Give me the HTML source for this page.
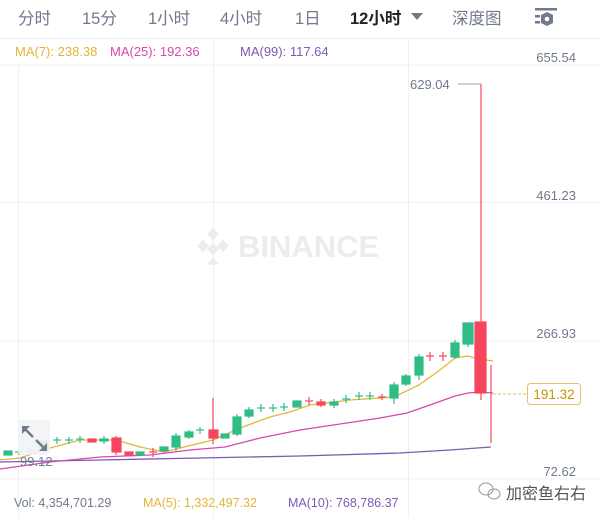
<!DOCTYPE html>
<html><head><meta charset="utf-8"><style>
html,body{margin:0;padding:0;background:#fff;width:600px;height:518px;overflow:hidden}
svg{display:block}
text{font-family:"Liberation Sans","Noto Sans CJK SC",sans-serif}
</style></head><body>
<svg width="600" height="518" viewBox="0 0 600 518" xmlns="http://www.w3.org/2000/svg">
<rect width="600" height="518" fill="#fff"/>
<g font-size="16.5" fill="#707a8a">
<text x="18" y="24">分时</text>
<text x="82" y="24">15分</text>
<text x="148" y="24">1小时</text>
<text x="220" y="24">4小时</text>
<text x="295" y="24">1日</text>
<text x="350" y="24" fill="#1e2329" font-weight="bold">12小时</text>
<text x="452" y="24">深度图</text>
</g>
<polygon points="411,13 423,13 417,20" fill="#707a8a"/>
<g fill="#707a8a"><rect x="535" y="8" width="22" height="2.5"/><rect x="535" y="15" width="5" height="2.5"/><rect x="535" y="21" width="5" height="2.5"/>
<polygon points="547,12 553,15 553,23 547,26 541,23 541,15"/><circle cx="547" cy="19" r="2.3" fill="#fff"/></g>
<line x1="0" y1="38.5" x2="600" y2="38.5" stroke="#eceef0"/>
<g font-size="13"><text x="15" y="56" fill="#e5b53a">MA(7): 238.38</text>
<text x="110" y="56" fill="#d948b0">MA(25): 192.36</text>
<text x="240" y="56" fill="#7d5ab5">MA(99): 117.64</text></g>
<g stroke="#eff0f2" stroke-width="1">
<line x1="0" y1="65" x2="600" y2="65"/><line x1="0" y1="202.5" x2="600" y2="202.5"/>
<line x1="0" y1="341" x2="600" y2="341"/><line x1="0" y1="479" x2="600" y2="479"/>
<line x1="18.5" y1="65" x2="18.5" y2="518"/><line x1="213.5" y1="40" x2="213.5" y2="518"/><line x1="408.5" y1="40" x2="408.5" y2="518"/>
</g>
<g font-size="13" fill="#707a8a" text-anchor="end">
<text x="576" y="62">655.54</text><text x="576" y="200">461.23</text>
<text x="576" y="338">266.93</text><text x="576" y="476">72.62</text></g>
<g fill="#ececec"><polygon points="213,228 219,234 213,240 207,234"/><polygon points="213,243 219,249 213,255 207,249"/><polygon points="203,240 209,246 203,252 197,246"/><polygon points="223,240 229,246 223,252 217,246"/><polygon points="213,258 219,264 213,265 207,264"/></g>
<text x="238" y="257" font-size="31" font-weight="bold" fill="#ececec">BINANCE</text>
<polyline fill="none" stroke="#7d5ab5" stroke-width="1.3" points="0,462 100,460 200,458 300,456 400,453 450,450 491,447"/>
<polyline fill="none" stroke="#d948b0" stroke-width="1.3" points="0,469 50,462 100,457 150,455 190,450 225,447 260,438 300,430 340,424 380,418 407,413 430,405 455,396 468,393 480,392 493,393"/>
<polyline fill="none" stroke="#e5b53a" stroke-width="1.3" points="0,460 20,458 50,448 80,440 116,440 140,447 164,452 180,448 213,440 240,428 270,417 290,412 310,405 350,400 394,397 419,385 440,370 455,358 467,356 480,359 493,361"/>
<g fill="#2ebd85" stroke="#2ebd85" stroke-width="1.2">
<rect x="4" y="451" width="8" height="4"/><line x1="15" y1="452" x2="23" y2="452"/><line x1="19" y1="449" x2="19" y2="455"/>
<line x1="26" y1="451" x2="34" y2="451"/><line x1="30" y1="448" x2="30" y2="454"/>
<rect x="40" y="441" width="8" height="8"/>
<line x1="53" y1="440" x2="61" y2="440"/><line x1="57" y1="437" x2="57" y2="444"/>
<line x1="65" y1="440" x2="73" y2="440"/><line x1="69" y1="437" x2="69" y2="444"/>
<line x1="76" y1="439" x2="84" y2="439"/><line x1="80" y1="436" x2="80" y2="443"/>
<rect x="100" y="439" width="8" height="2"/><line x1="104" y1="436" x2="104" y2="444"/>
<rect x="136" y="452" width="8" height="3"/>
<rect x="160" y="447" width="8" height="4"/>
<rect x="172" y="436" width="8" height="11"/><line x1="176" y1="433" x2="176" y2="451"/>
<rect x="185" y="432" width="8" height="5"/><line x1="189" y1="430" x2="189" y2="439"/>
<line x1="196" y1="430" x2="204" y2="430"/><line x1="200" y1="427" x2="200" y2="434"/>
<rect x="221" y="434" width="8" height="4"/>
<rect x="233" y="417" width="8" height="17"/><line x1="237" y1="414" x2="237" y2="436"/>
<rect x="245" y="410" width="8" height="6"/><line x1="249" y1="407" x2="249" y2="418"/>
<line x1="257" y1="408" x2="265" y2="408"/><line x1="261" y1="404" x2="261" y2="412"/>
<line x1="269" y1="408" x2="277" y2="408"/><line x1="273" y1="404" x2="273" y2="412"/>
<line x1="280" y1="407" x2="288" y2="407"/><line x1="284" y1="403" x2="284" y2="411"/>
<rect x="293" y="401" width="8" height="6"/>
<rect x="330" y="402" width="8" height="3"/><line x1="334" y1="399" x2="334" y2="408"/>
<line x1="342" y1="399" x2="350" y2="399"/><line x1="346" y1="395" x2="346" y2="403"/>
<line x1="355" y1="396" x2="363" y2="396"/><line x1="359" y1="392" x2="359" y2="400"/>
<line x1="366" y1="396" x2="374" y2="396"/><line x1="370" y1="392" x2="370" y2="400"/>
<rect x="390" y="385" width="8" height="13"/><line x1="394" y1="382" x2="394" y2="404"/>
<rect x="402" y="376" width="8" height="8"/><line x1="406" y1="374" x2="406" y2="386"/>
<rect x="415" y="357" width="8" height="18"/><line x1="419" y1="354" x2="419" y2="380"/>
<rect x="451" y="343" width="8" height="14"/><line x1="455" y1="340" x2="455" y2="359"/>
<rect x="463" y="323" width="10" height="21"/><line x1="468" y1="323" x2="468" y2="347"/>
</g>
<g fill="#f6465d" stroke="#f6465d" stroke-width="1.2">
<rect x="88" y="439" width="8" height="3"/>
<rect x="112" y="438" width="9" height="14"/><line x1="116" y1="436" x2="116" y2="455"/>
<rect x="125" y="452" width="8" height="3"/>
<line x1="149" y1="452" x2="157" y2="452"/><line x1="153" y1="448" x2="153" y2="457"/>
<rect x="209" y="430" width="9" height="8"/><line x1="213" y1="398" x2="213" y2="444"/>
<line x1="305" y1="401" x2="313" y2="401"/><line x1="309" y1="397" x2="309" y2="405"/>
<rect x="317" y="402" width="8" height="3"/><line x1="321" y1="399" x2="321" y2="407"/>
<line x1="378" y1="397" x2="386" y2="397"/><line x1="382" y1="394" x2="382" y2="400"/>
<line x1="426" y1="356" x2="434" y2="356"/><line x1="430" y1="352" x2="430" y2="361"/>
<line x1="439" y1="356" x2="447" y2="356"/><line x1="443" y1="352" x2="443" y2="361"/>
<rect x="475" y="322" width="11" height="71"/><line x1="481" y1="84" x2="481" y2="400"/>
<line x1="491" y1="365" x2="491" y2="443"/>
</g>
<line x1="458" y1="84" x2="481" y2="84" stroke="#9aa0a8" stroke-width="1"/>
<text x="410" y="89" font-size="13" fill="#707a8a">629.04</text>
<line x1="493" y1="394" x2="527" y2="394" stroke="#e5c06a" stroke-dasharray="3,2"/>
<rect x="527.5" y="383.5" width="53" height="21" rx="3" fill="#fff" stroke="#e5c06a"/>
<text x="554" y="399" font-size="13.5" fill="#c99400" text-anchor="middle">191.32</text>
<rect x="18" y="420" width="32" height="35" rx="4" fill="#f2f3f5" opacity="0.9"/>
<g stroke="#707a8a" stroke-width="2.5" fill="#707a8a"><line x1="25" y1="429" x2="33" y2="437"/><line x1="36" y1="440" x2="44" y2="448"/></g>
<polygon points="22,426 30,426 22,434" fill="#707a8a"/><polygon points="47,451 39,451 47,443" fill="#707a8a"/>
<text x="20" y="466" font-size="13" fill="#707a8a">99.12</text>
<g font-size="12.5"><text x="14" y="507" fill="#707a8a">Vol: 4,354,701.29</text>
<text x="143" y="507" fill="#e5b53a">MA(5): 1,332,497.32</text>
<text x="288" y="507" fill="#7d5ab5">MA(10): 768,786.37</text></g>
<g fill="none" stroke="#999" stroke-width="1"><ellipse cx="486" cy="489" rx="7" ry="6"/><ellipse cx="494" cy="494" rx="6" ry="5"/></g>
<text x="506" y="499" font-size="16" fill="#555">加密鱼右右</text>
</svg>
</body></html>
